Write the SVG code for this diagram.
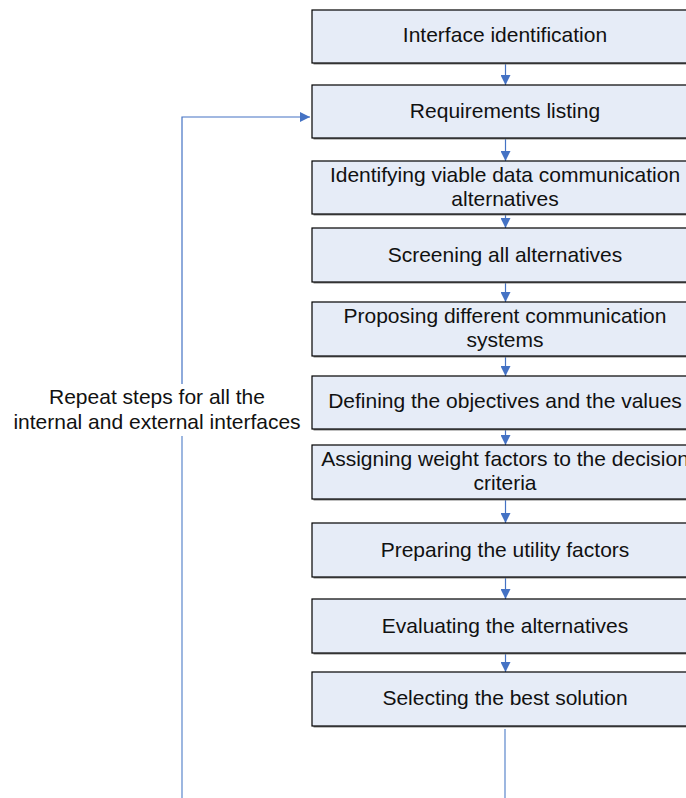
<svg xmlns="http://www.w3.org/2000/svg" width="686" height="798" viewBox="0 0 686 798">
  <defs>
    <marker id="arrow" viewBox="0 0 10 10" refX="10" refY="5" markerWidth="10" markerHeight="10" markerUnits="userSpaceOnUse" orient="auto">
      <path d="M0,0 L10,5 L0,10 Z" fill="#4472C4"/>
    </marker>
  </defs>
  <style>
    .shadow { fill: #808080; }
    .box { fill: #E6ECF7; stroke: #000000; stroke-width: 1.2; }
    .label { font-family: "Liberation Sans", Arial, sans-serif; font-size: 21px; fill: #111111; text-anchor: middle; }
    .conn { fill: none; stroke: #4472C4; stroke-width: 1.2; }
    .loop { fill: none; stroke: #5B86CC; stroke-width: 1.2; }
  </style>
  <rect width="686" height="798" fill="#ffffff"/>

  <!-- connectors -->
  <g id="connectors">
    <line class="conn" x1="505.5" y1="63" x2="505.5" y2="85" marker-end="url(#arrow)"/>
    <line class="conn" x1="505.5" y1="138" x2="505.5" y2="161" marker-end="url(#arrow)"/>
    <line class="conn" x1="505.5" y1="214" x2="505.5" y2="228" marker-end="url(#arrow)"/>
    <line class="conn" x1="505.5" y1="282" x2="505.5" y2="302" marker-end="url(#arrow)"/>
    <line class="conn" x1="505.5" y1="356" x2="505.5" y2="376" marker-end="url(#arrow)"/>
    <line class="conn" x1="505.5" y1="429" x2="505.5" y2="445" marker-end="url(#arrow)"/>
    <line class="conn" x1="505.5" y1="499" x2="505.5" y2="523" marker-end="url(#arrow)"/>
    <line class="conn" x1="505.5" y1="577" x2="505.5" y2="599" marker-end="url(#arrow)"/>
    <line class="conn" x1="505.5" y1="653" x2="505.5" y2="672" marker-end="url(#arrow)"/>
    <!-- exit line below the last step -->
    <line class="loop" x1="505" y1="729" x2="505" y2="798"/>
    <!-- feedback loop back to the requirements step -->
    <line class="loop" x1="182" y1="798" x2="182" y2="436"/>
    <polyline class="conn" points="182,384 182,117 310,117" marker-end="url(#arrow)"/>
  </g>

  <g id="loop-label">
    <text class="label" x="157" y="404">Repeat steps for all the</text>
    <text class="label" x="157" y="429">internal and external interfaces</text>
  </g>

  <g id="step1">
    <rect class="shadow" x="313.5" y="11.5" width="400" height="53"/>
    <rect class="box" x="312" y="10" width="400" height="53"/>
    <text class="label" x="505" y="42">Interface identification</text>
  </g>
  <g id="step2">
    <rect class="shadow" x="313.5" y="86.5" width="400" height="53"/>
    <rect class="box" x="312" y="85" width="400" height="53"/>
    <text class="label" x="505" y="118">Requirements listing</text>
  </g>
  <g id="step3">
    <rect class="shadow" x="313.5" y="162.5" width="400" height="53"/>
    <rect class="box" x="312" y="161" width="400" height="53"/>
    <text class="label" x="505" y="182">Identifying viable data communication</text>
    <text class="label" x="505" y="206">alternatives</text>
  </g>
  <g id="step4">
    <rect class="shadow" x="313.5" y="229.5" width="400" height="54"/>
    <rect class="box" x="312" y="228" width="400" height="54"/>
    <text class="label" x="505" y="262">Screening all alternatives</text>
  </g>
  <g id="step5">
    <rect class="shadow" x="313.5" y="303.5" width="400" height="54"/>
    <rect class="box" x="312" y="302" width="400" height="54"/>
    <text class="label" x="505" y="323">Proposing different communication</text>
    <text class="label" x="505" y="347">systems</text>
  </g>
  <g id="step6">
    <rect class="shadow" x="313.5" y="377.5" width="400" height="53"/>
    <rect class="box" x="312" y="376" width="400" height="53"/>
    <text class="label" x="505" y="408">Defining the objectives and the values</text>
  </g>
  <g id="step7">
    <rect class="shadow" x="313.5" y="446.5" width="400" height="54"/>
    <rect class="box" x="312" y="445" width="400" height="54"/>
    <text class="label" x="505" y="466">Assigning weight factors to the decision</text>
    <text class="label" x="505" y="490">criteria</text>
  </g>
  <g id="step8">
    <rect class="shadow" x="313.5" y="524.5" width="400" height="54"/>
    <rect class="box" x="312" y="523" width="400" height="54"/>
    <text class="label" x="505" y="557">Preparing the utility factors</text>
  </g>
  <g id="step9">
    <rect class="shadow" x="313.5" y="600.5" width="400" height="54"/>
    <rect class="box" x="312" y="599" width="400" height="54"/>
    <text class="label" x="505" y="633">Evaluating the alternatives</text>
  </g>
  <g id="step10">
    <rect class="shadow" x="313.5" y="673.5" width="400" height="54"/>
    <rect class="box" x="312" y="672" width="400" height="54"/>
    <text class="label" x="505" y="705">Selecting the best solution</text>
  </g>
</svg>
